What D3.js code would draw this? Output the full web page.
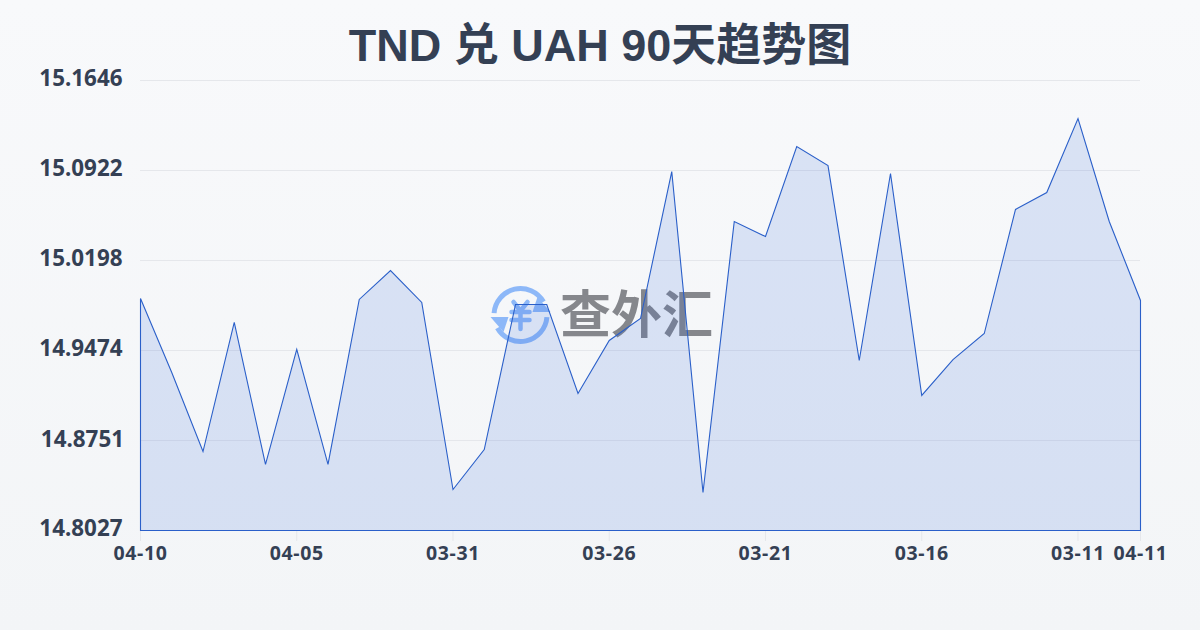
<!DOCTYPE html>
<html><head><meta charset="utf-8">
<script src="https://cdnjs.cloudflare.com/ajax/libs/d3/7.8.5/d3.min.js"></script>
<style>html,body{margin:0;padding:0;background:#f5f7fa}svg{display:block}</style>
</head><body><svg id="c" width="1200" height="630"></svg>
<script>
const titleText = "TND 兑 UAH 90天趋势图";
const watermarkText = "查外汇";
const categories = ["04-10","04-09","04-08","04-07","04-06","04-05","04-04","04-03","04-02","04-01","03-31","03-30","03-29","03-28","03-27","03-26","03-25","03-24","03-23","03-22","03-21","03-20","03-19","03-18","03-17","03-16","03-15","03-14","03-13","03-12","03-11","03-10","04-11"];
const rates = [14.9893,14.9298,14.8662,14.9700,14.8558,14.9483,14.8558,14.9885,15.0118,14.9861,14.8357,14.8678,14.9845,14.9845,14.9129,14.9555,14.9732,15.0914,14.8333,15.0512,15.0391,15.1115,15.0962,14.9394,15.0898,14.9113,14.9402,14.9611,15.0609,15.0745,15.1340,15.0512,14.9877];
const yTicks = [14.8027,14.8751,14.9474,15.0198,15.0922,15.1646];
const xTicks = ["04-10","04-05","03-31","03-26","03-21","03-16","03-11","04-11"];

const font = "'Noto Sans','Noto Sans CJK SC',sans-serif";
const ink = "#344054";
const svg = d3.select("#c");
const defs = svg.append("defs");
const bg = defs.append("linearGradient").attr("id","bg").attr("x1",0).attr("y1",0).attr("x2",0).attr("y2",1);
bg.append("stop").attr("offset","0%").attr("stop-color","#f8f9fb");
bg.append("stop").attr("offset","100%").attr("stop-color","#f3f5f7");
svg.append("rect").attr("width",1200).attr("height",630).attr("fill","url(#bg)");

const x = d3.scalePoint().domain(d3.range(categories.length)).range([140.5,1140.5]);
const y = d3.scaleLinear().domain([yTicks[0],yTicks[yTicks.length-1]]).range([530.5,80.5]);

// grid
svg.append("g").selectAll("line").data(yTicks.slice(1)).join("line")
  .attr("x1",140).attr("x2",1140).attr("y1",d=>Math.floor(y(d))+.5).attr("y2",d=>Math.floor(y(d))+.5)
  .attr("stroke","#e5e7eb").attr("stroke-width",1);

// x tick marks
const xIdx = xTicks.map((t,i)=> i===xTicks.length-1 ? categories.length-1 : categories.indexOf(t));
svg.append("g").selectAll("line").data(xIdx).join("line")
  .attr("x1",d=>x(d)).attr("x2",d=>x(d)).attr("y1",531).attr("y2",541)
  .attr("stroke","#e5e7eb");

// watermark
const wm = svg.append("g");
const cx=520.5, cy=315, r=29, logo="#8db8f8";
const arc = d3.arc().innerRadius(r-5).outerRadius(r);
const ring = wm.append("g").attr("transform",`translate(${cx},${cy})`).attr("fill",logo);
ring.append("path").attr("d",arc({startAngle:-1.5,endAngle:1.05}));
ring.append("path").attr("d",arc({startAngle:1.65,endAngle:4.2}));
ring.append("path").attr("d",d3.line()([[17,-18],[30,-3],[12,-3]]).replace(/$/,"Z"));
ring.append("path").attr("d",d3.line()([[-30,2],[-12,2],[-17,17]]).replace(/$/,"Z"));
const yen = wm.append("g").attr("transform",`translate(${cx},${cy})`).attr("stroke",logo).attr("stroke-width",4.5).attr("stroke-linecap","round").attr("fill","none");
yen.append("path").attr("d","M-7,-13L0,-4L7,-13");
yen.append("path").attr("d","M-9,-3H9M-9,5H9M0,-4V14");
wm.append("text").attr("x",560).attr("y",333).attr("font-family","'Noto Sans CJK SC',sans-serif").attr("font-weight",700).attr("font-size",51).attr("fill","#85878c").text(watermarkText);

// area + line
const area = d3.area().x((d,i)=>x(i)).y0(y(yTicks[0])).y1(d=>y(d));
svg.append("path").datum(rates).attr("d",area).attr("fill","#3263d7").attr("fill-opacity",.15)
  .attr("stroke","#2a5fc9").attr("stroke-width",1.1).attr("stroke-linejoin","miter");

// y labels
svg.append("g").selectAll("text").data(yTicks).join("text")
  .attr("x",(d,i)=>i===1?124:122.5).attr("y",(d,i)=>Math.floor(y(d))+(i===1?7:6)).attr("text-anchor","end")
  .attr("font-family",font).attr("font-weight",700).attr("font-size",22.4).attr("fill",ink).text(d=>d.toFixed(4));

// x labels
svg.append("g").selectAll("text").data(xTicks).join("text")
  .attr("x",(d,i)=>x(xIdx[i])).attr("y",559.5).attr("text-anchor","middle")
  .attr("font-family",font).attr("font-weight",700).attr("font-size",19.5).attr("letter-spacing",.6).attr("fill",ink).text(d=>d);

// title
svg.append("text").attr("x",600).attr("y",61).attr("text-anchor","middle")
  .attr("font-family","'Liberation Sans','Noto Sans CJK SC',sans-serif").attr("font-weight",700).attr("font-size",45).attr("fill",ink).text(titleText);
</script></body></html>
